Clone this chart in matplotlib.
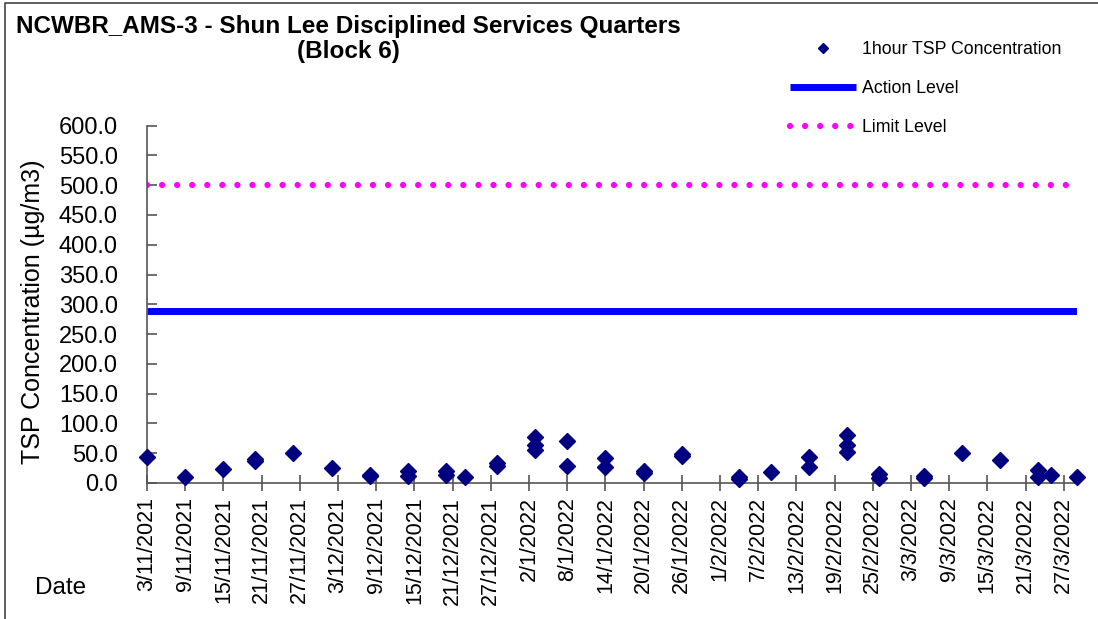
import datetime as dt

import matplotlib
matplotlib.use("Agg")
import matplotlib.pyplot as plt
import matplotlib.dates as mdates
from matplotlib.lines import Line2D
from matplotlib.ticker import FuncFormatter, MultipleLocator

plt.rcParams["font.family"] = ["Liberation Sans", "DejaVu Sans"]

# 1-hour TSP readings (date, value in ug/m3)
sample_dates = [
    "2021-11-03", "2021-11-09", "2021-11-15", "2021-11-20", "2021-11-20",
    "2021-11-26", "2021-12-02", "2021-12-08", "2021-12-08",
    "2021-12-14", "2021-12-14", "2021-12-20", "2021-12-20", "2021-12-23",
    "2021-12-28", "2021-12-28", "2022-01-03", "2022-01-03", "2022-01-03",
    "2022-01-08", "2022-01-08", "2022-01-14", "2022-01-14",
    "2022-01-20", "2022-01-20", "2022-01-26", "2022-01-26",
    "2022-02-04", "2022-02-04", "2022-02-09",
    "2022-02-15", "2022-02-15", "2022-02-21", "2022-02-21", "2022-02-21",
    "2022-02-26", "2022-02-26", "2022-03-05", "2022-03-05",
    "2022-03-11", "2022-03-17", "2022-03-23", "2022-03-23",
    "2022-03-25", "2022-03-29",
]
tsp_values = [
    44, 10, 23, 37, 40,
    51, 25, 11, 13,
    12, 20, 13, 20, 10,
    28, 33, 55, 63, 77,
    28, 70, 27, 41,
    17, 20, 45, 48,
    7, 10, 18,
    26, 44, 52, 64, 80,
    8, 15, 8, 11,
    51, 38, 10, 21,
    13, 10,
]

action_level = 288.0
limit_level = 500.0
level_dates = ["2021-11-03", "2022-03-29"]

x_pts = [dt.datetime.strptime(d, "%Y-%m-%d") for d in sample_dates]
x_lvl = [dt.datetime.strptime(d, "%Y-%m-%d") for d in level_dates]

fig = plt.figure(figsize=(10.98, 6.19), dpi=100)
ax = fig.add_axes([147 / 1098, 1 - 482.9 / 619, 929.5 / 1098, 357.2 / 619])

ax.plot(x_lvl, [action_level] * 2, color="#0000FF", lw=5,
        solid_capstyle="butt", zorder=2)
ax.plot(x_lvl, [limit_level] * 2, color="#FF00FF", lw=4.5,
        linestyle=(0, (0.01, 2.4)), dash_capstyle="round", zorder=2)
ax.plot(x_pts, tsp_values, linestyle="none", marker="D", markersize=8,
        color="#000080", zorder=3, clip_on=False)

ax.set_xlim(x_lvl[0], x_lvl[1])
ax.set_ylim(0, 600)

ax.yaxis.set_major_locator(MultipleLocator(50))
ax.yaxis.set_major_formatter(FuncFormatter(lambda v, p: f"{v:.1f}"))
ticks = [x_lvl[0] + dt.timedelta(days=6 * i) for i in range(25)]
ax.set_xticks(ticks)
ax.xaxis.set_major_formatter(FuncFormatter(
    lambda v, p: "{0.day}/{0.month}/{0.year}".format(mdates.num2date(v))))

for s in ("top", "right"):
    ax.spines[s].set_visible(False)
for s in ("left", "bottom"):
    ax.spines[s].set_color("#555555")
    ax.spines[s].set_linewidth(1.2)

ax.tick_params(axis="y", direction="in", length=7, width=1.2,
               color="#555555", labelsize=17, pad=21)
ax.tick_params(axis="x", direction="inout", length=12, width=1.2,
               color="#555555", labelsize=15.5, pad=4)
for lab in ax.get_xticklabels():
    lab.set_rotation(90)

ax.set_ylabel("TSP Concentration (µg/m3)", fontsize=18)
ax.yaxis.set_label_coords((45 - 147) / 929.5, (482.9 - 312) / 357.2)

fig.text(35 / 1098, 1 - 588 / 619, "Date", fontsize=17.5, va="center")
fig.text(348 / 1098, 1 - 39 / 619,
         "NCWBR_AMS-3 - Shun Lee Disciplined Services Quarters\n(Block 6)",
         ha="center", va="center", fontsize=17.5, fontweight="bold",
         linespacing=1.12)

handles = [
    Line2D([], [], linestyle="none", marker="D", markersize=5.5,
           color="#000080"),
    Line2D([], [], color="#0000FF", lw=5, solid_capstyle="butt"),
    Line2D([], [], color="#FF00FF", lw=4.5,
           linestyle=(0, (0.01, 2.4)), dash_capstyle="round"),
]
fig.legend(handles, ["1hour TSP Concentration", "Action Level", "Limit Level"],
           loc="upper left", bbox_to_anchor=(774 / 1098, 1 - 25 / 619),
           frameon=False, fontsize=12.8, handlelength=3.7, handletextpad=0.33,
           labelspacing=1.25)

# chart frame: only the top and left edges are inside the image
fig.add_artist(Line2D([5 / 1098, 5 / 1098, 1.0], [0.0, 1 - 3 / 619, 1 - 3 / 619],
                      transform=fig.transFigure, color="#444444", lw=1.2))

fig.savefig("out.png", dpi=100)
